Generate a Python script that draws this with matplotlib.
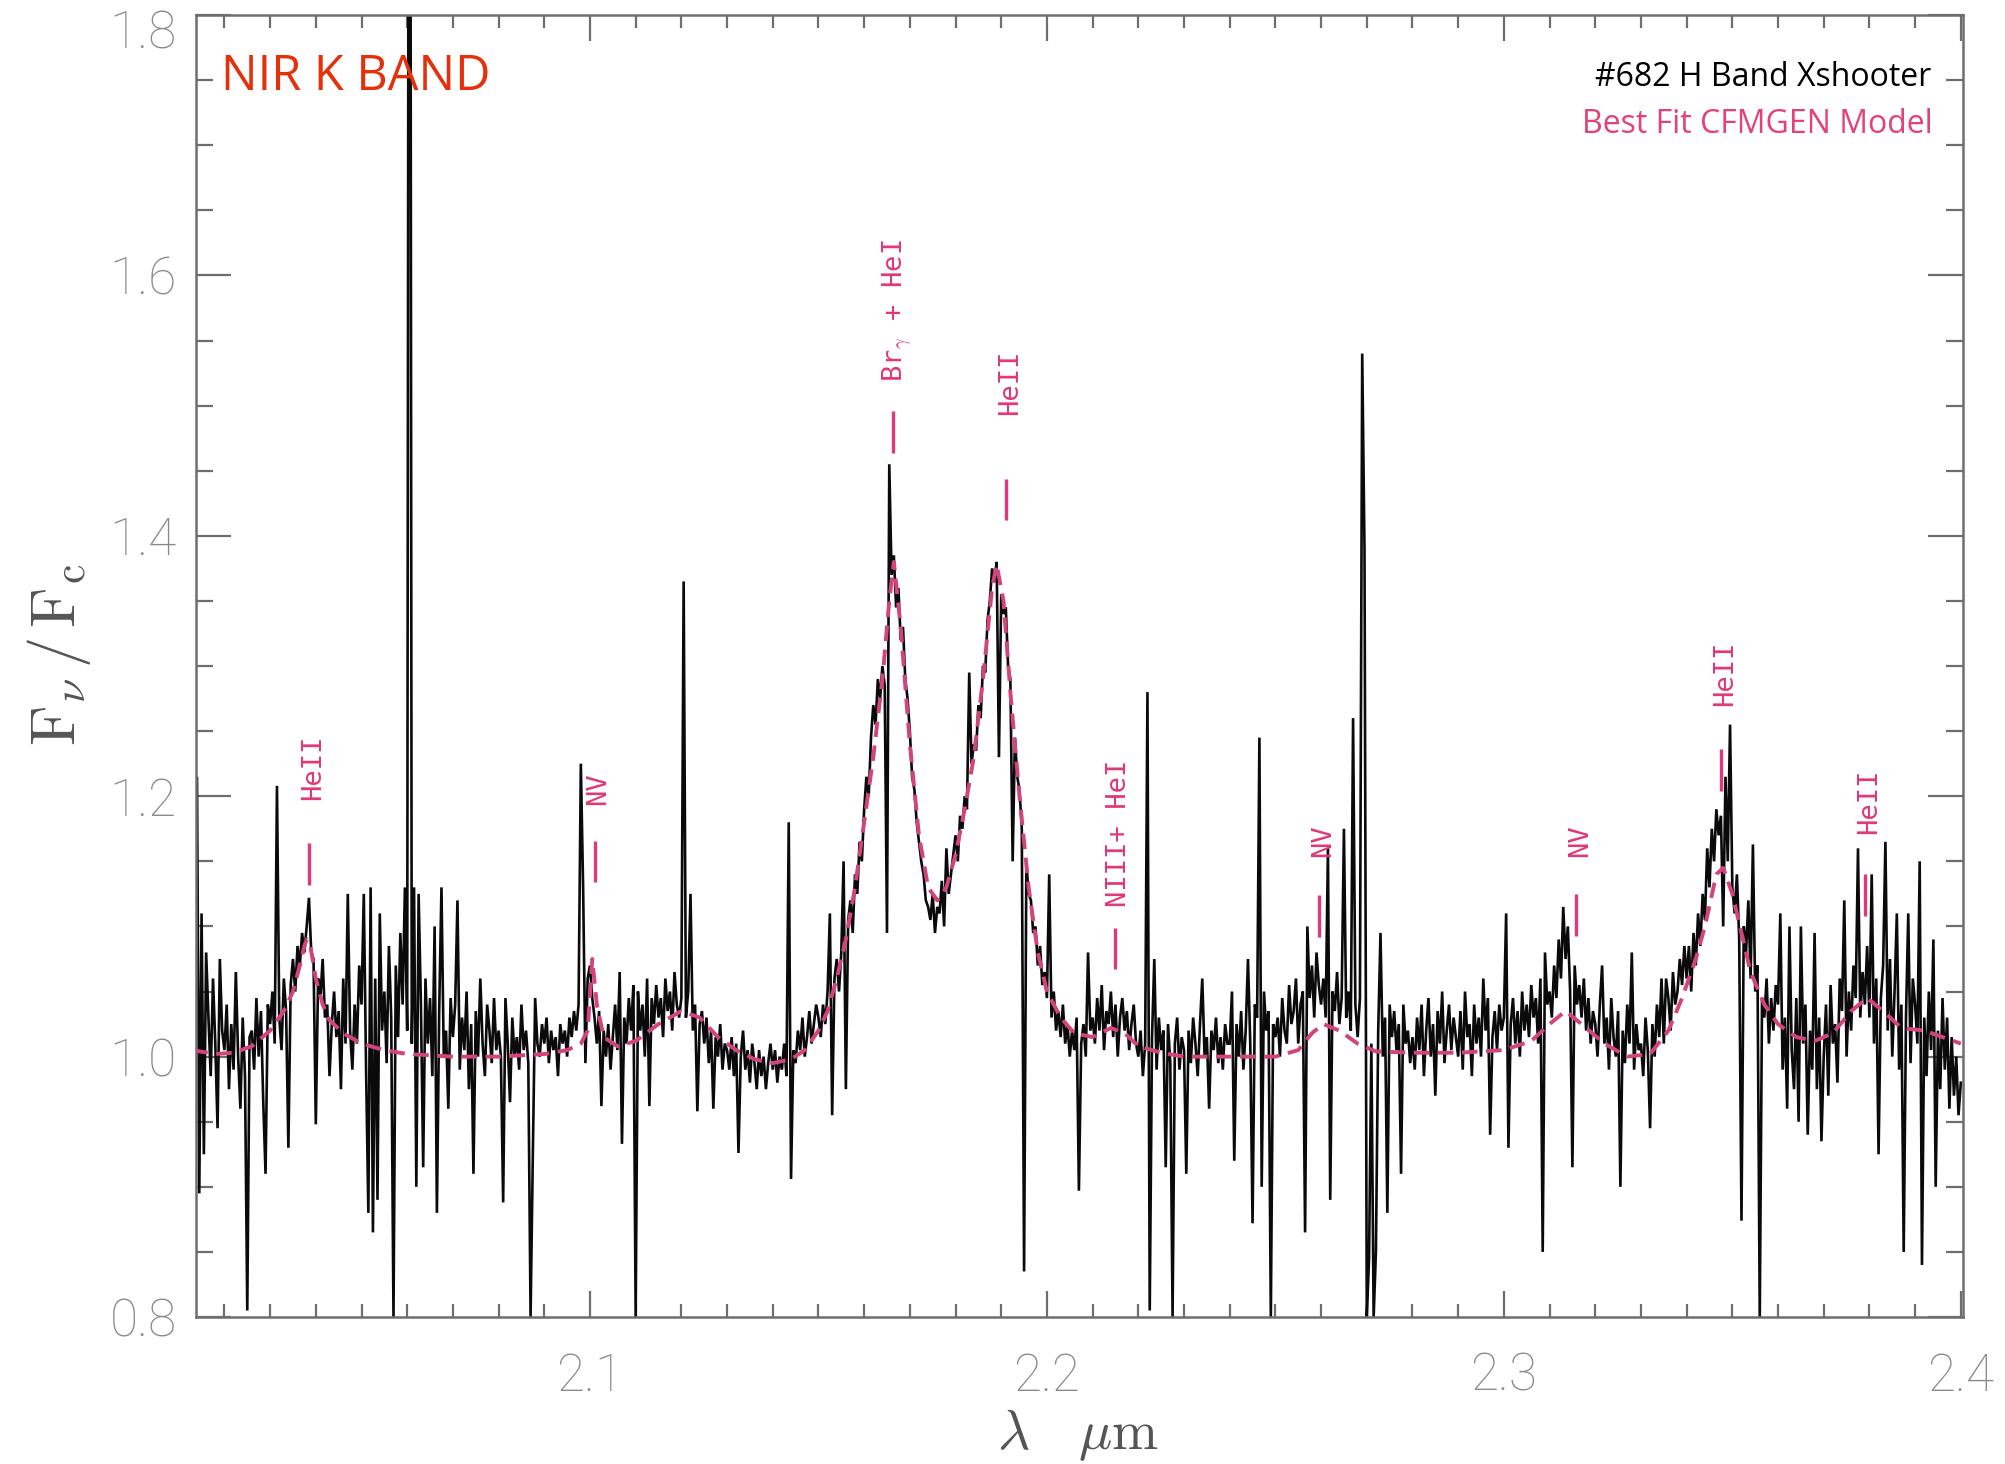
import matplotlib
matplotlib.use("Agg")
import matplotlib.pyplot as plt
import matplotlib.transforms as mtransforms
import numpy as np
from matplotlib.ticker import MultipleLocator, FixedLocator

# ---------------------------------------------------------------- data
# Observed K-band spectrum, sampled every 0.5 nm from 2.0130 um (flux x 1000)
wave_start = 2.0130
wave_step = 0.0005
flux_milli = [
    1040, 1120, 1215, 895, 1110, 925, 1080, 1030, 985, 1060, 1010, 945, 1075, 1020,             # 2.013
    1005, 1040, 975, 1025, 990, 1065, 1000, 960, 1030, 985, 805, 1015, 1020, 990, 1045, 1000, 1035, 965, 910, 1040,   # 2.02
    1025, 1050, 1010, 1208, 1030, 1005, 1060, 1035, 930, 1055, 1075, 1050, 1085, 1070, 1095, 1080, 1100, 1122, 1080, 1075,  # 2.03
    948, 1060, 1045, 1075, 1030, 1040, 985, 1025, 1050, 1015, 1035, 975, 1060, 1010, 1125, 1020, 990, 1040, 1010, 1070,     # 2.04
    1040, 1125, 990, 880, 1130, 865, 1060, 890, 1110, 1020, 1050, 995, 1085, 1030, 800, 1070, 1015, 1095, 1040, 1130,       # 2.05
    1020, 2600, 1010, 1130, 900, 1125, 1040, 915, 1060, 1010, 1045, 985, 1100, 880, 1035, 1130, 1000, 1020, 960, 1045,      # 2.06
    1015, 1040, 1120, 990, 1030, 1005, 1050, 975, 1025, 910, 1035, 1000, 1060, 1010, 985, 1040, 1020, 995, 1045, 1005,      # 2.07
    1020, 1000, 888, 1045, 1010, 965, 1030, 1000, 1015, 990, 1040, 1005, 1020, 995, 800, 926, 1045, 1010, 1000, 1025,       # 2.08
    1010, 1030, 995, 1020, 1005, 1015, 985, 1025, 1010, 1020, 1000, 1030, 1015, 1035, 1020, 1040, 1225, 1130, 995, 1060,    # 2.09
    1070, 1045, 1030, 1010, 1035, 962, 1020, 1000, 1025, 990, 1015, 1040, 1005, 1065, 933, 1030, 1010, 1045, 1020, 1055,    # 2.10
    800, 1050, 1020, 1040, 1000, 1060, 962, 1045, 1025, 1055, 1030, 1045, 1015, 1060, 1035, 1050, 1020, 1065, 1040, 1030,   # 2.11
    1045, 1365, 1030, 1050, 1125, 1020, 1040, 958, 1025, 1035, 1010, 1030, 995, 1020, 960, 1015, 1000, 1025, 990, 1010,     # 2.12
    1005, 990, 1015, 985, 1010, 926, 1000, 1020, 990, 1005, 980, 1010, 995, 975, 1005, 985, 1000, 975, 995, 1010,           # 2.13
    990, 1005, 980, 1000, 990, 1010, 985, 1180, 906, 1005, 995, 1020, 1005, 1030, 1000, 1015, 1035, 1010, 1025, 1040,       # 2.14
    1030, 1015, 1040, 1025, 1050, 1110, 955, 1060, 1075, 1050, 1080, 1150, 975, 1105, 1120, 1095, 1140, 1125, 1165, 1150,   # 2.15
    1190, 1215, 1200, 1245, 1270, 1255, 1290, 1275, 1300, 1285, 1095, 1455, 1370, 1385, 1345, 1360, 1320, 1330, 1290, 1275, # 2.16
    1250, 1215, 1205, 1180, 1165, 1150, 1140, 1120, 1115, 1105, 1125, 1095, 1115, 1110, 1135, 1100, 1160, 1125, 1140, 1155, # 2.17
    1170, 1150, 1185, 1175, 1200, 1190, 1295, 1225, 1240, 1235, 1270, 1260, 1300, 1295, 1335, 1350, 1375, 1365, 1380, 1230, # 2.18
    1355, 1340, 1345, 1300, 1290, 1150, 1245, 1215, 1205, 1175, 835, 1150, 1125, 1120, 1095, 1100, 1070, 1085, 1055, 1065,  # 2.19
    1045, 1140, 1030, 1050, 1020, 1035, 1015, 1040, 1010, 1025, 1000, 1020, 1005, 1030, 897, 1010, 1025, 1000, 1080, 1020,  # 2.20
    1030, 1010, 1045, 1020, 1055, 1005, 1035, 1025, 1050, 1015, 1040, 1000, 1030, 1045, 1020, 1035, 1005, 1025, 1040, 1010, # 2.21
    1000, 1020, 985, 1010, 1280, 805, 1015, 1075, 990, 1030, 1005, 1020, 915, 1025, 995, 800, 1010, 1030, 990, 1015,        # 2.22
    1005, 910, 1020, 995, 1030, 1010, 985, 1025, 1060, 1000, 1015, 960, 1020, 1005, 1030, 995, 1015, 990, 1025, 1010,       # 2.23
    1010, 1050, 920, 1025, 1000, 1035, 990, 1020, 1075, 1010, 872, 1040, 1030, 1245, 900, 1050, 1020, 1035, 800, 1025,      # 2.24
    1015, 1030, 1000, 1045, 1020, 1010, 1055, 1025, 1035, 1060, 1010, 1040, 1050, 865, 1100, 1045, 1070, 1030, 1080, 1055,  # 2.25
    1040, 1060, 1030, 1160, 890, 1050, 1035, 1065, 1025, 1045, 1175, 1030, 1050, 1020, 1260, 1040, 1015, 1045, 1540, 1390,  # 2.26
    800, 845, 1010, 800, 850, 1020, 1095, 1000, 1030, 880, 1040, 1015, 1035, 1005, 1025, 910, 1040, 1010, 1020, 995,        # 2.27
    1015, 990, 1030, 1005, 1040, 985, 1020, 1045, 1000, 1025, 970, 1035, 1010, 1050, 995, 1020, 1040, 1005, 1030, 1015,     # 2.28
    1000, 1035, 990, 1050, 1015, 1025, 985, 1040, 1010, 1030, 1000, 1060, 1020, 1045, 940, 1015, 1035, 1005, 1040, 1020,    # 2.29
    1030, 1110, 930, 1025, 1045, 1010, 1035, 1000, 1050, 1020, 1040, 1015, 1055, 1030, 1045, 1010, 1060, 850, 1080, 1040,   # 2.30
    1050, 1030, 1070, 1045, 1090, 1060, 1115, 1075, 1100, 1050, 915, 1070, 1040, 1055, 1030, 1060, 1020, 1045, 1010, 1035,  # 2.31
    1025, 1000, 1040, 1070, 1010, 1030, 990, 1045, 1015, 1000, 1035, 900, 1020, 995, 1040, 1010, 1080, 990, 1025, 1005,     # 2.32
    1010, 985, 1030, 1005, 945, 1025, 1000, 1040, 1015, 1060, 1010, 1060, 1045, 1020, 1065, 1040, 1050, 1075, 1055, 1085,   # 2.33
    1060, 1085, 1050, 1095, 1070, 1110, 1085, 1125, 1105, 1160, 1130, 1175, 1150, 1190, 1170, 1185, 1100, 1215, 1150, 1255, # 2.34
    1130, 1110, 1140, 1090, 874, 1100, 1080, 1120, 1060, 1163, 1050, 1070, 800, 1045, 1030, 1060, 1010, 1045, 1020, 1055,   # 2.35
    1040, 1110, 990, 1030, 960, 1100, 1005, 975, 1045, 950, 1100, 1010, 1040, 940, 1020, 990, 1095, 975, 1030, 935,         # 2.36
    1000, 1040, 970, 1055, 1010, 1025, 980, 1060, 1035, 1120, 1000, 1050, 1020, 1070, 1045, 1160, 1030, 1065, 1040, 1085,   # 2.37
    1030, 1140, 1010, 1060, 925, 1045, 1070, 1165, 1020, 1075, 1000, 1050, 1110, 990, 1040, 850, 1030, 1110, 995, 1060,     # 2.38
    1040, 1010, 1150, 840, 1030, 985, 1050, 1005, 1090, 900, 1020, 975, 1045, 990, 1030, 960, 1015, 970, 1000, 955,         # 2.39
    980,                                                                                                                    # 2.40
]

# Best-fit CMFGEN model (dashed curve)
model_wave = [2.013, 2.018, 2.022, 2.026, 2.030, 2.033, 2.035, 2.0365, 2.0375, 2.038, 2.0388,
              2.040, 2.0415, 2.043, 2.046, 2.050, 2.055, 2.060, 2.070, 2.080, 2.090, 2.095,
              2.098, 2.0995, 2.1005, 2.1015, 2.103, 2.106, 2.110, 2.115, 2.120, 2.124, 2.128,
              2.132, 2.136, 2.140, 2.144, 2.147, 2.150, 2.152, 2.154, 2.156, 2.158, 2.160,
              2.162, 2.164, 2.1655, 2.1665, 2.168, 2.170, 2.172, 2.174, 2.176, 2.178, 2.180,
              2.182, 2.184, 2.186, 2.188, 2.189, 2.1905, 2.192, 2.194, 2.196, 2.198, 2.200,
              2.203, 2.206, 2.210, 2.214, 2.217, 2.220, 2.225, 2.230, 2.240, 2.250, 2.255,
              2.258, 2.2605, 2.264, 2.268, 2.272, 2.280, 2.290, 2.300, 2.306, 2.310, 2.3135,
              2.317, 2.322, 2.327, 2.332, 2.336, 2.339, 2.342, 2.344, 2.3465, 2.348, 2.350,
              2.352, 2.354, 2.357, 2.360, 2.364, 2.368, 2.372, 2.376, 2.3795, 2.383, 2.387,
              2.392, 2.396, 2.400]
model_flux = [1.005, 1.002, 1.003, 1.008, 1.020, 1.035, 1.050, 1.070, 1.085, 1.090, 1.085,
              1.060, 1.040, 1.028, 1.018, 1.010, 1.005, 1.002, 1.000, 1.000, 1.002, 1.005,
              1.010, 1.020, 1.075, 1.040, 1.015, 1.008, 1.012, 1.025, 1.035, 1.030, 1.015,
              1.005, 0.998, 0.995, 0.998, 1.005, 1.020, 1.035, 1.060, 1.090, 1.130, 1.180,
              1.230, 1.290, 1.350, 1.380, 1.330, 1.240, 1.170, 1.130, 1.120, 1.130, 1.155,
              1.190, 1.230, 1.290, 1.360, 1.378, 1.350, 1.280, 1.200, 1.130, 1.080, 1.050,
              1.030, 1.018, 1.015, 1.022, 1.018, 1.008, 1.003, 1.000, 1.000, 1.000, 1.005,
              1.018, 1.025, 1.020, 1.010, 1.004, 1.003, 1.003, 1.005, 1.012, 1.025, 1.035,
              1.025, 1.010, 1.000, 1.002, 1.020, 1.045, 1.075, 1.100, 1.140, 1.145, 1.125,
              1.095, 1.065, 1.040, 1.025, 1.015, 1.012, 1.018, 1.035, 1.045, 1.035, 1.022,
              1.020, 1.015, 1.010]

# Line identifications: wavelength, marker base, label base (flux units)
line_labels = ["HeII", "NV", r"Br$_\gamma$ + HeI", "HeII", "NIII+ HeI",
               "NV", "NV", "HeII", "HeII"]
line_waves = [2.0385, 2.1010, 2.1664, 2.1911, 2.2148, 2.2595, 2.3158, 2.3475, 2.3790]
mark_base = [1.132, 1.134, 1.464, 1.412, 1.067, 1.092, 1.093, 1.204, 1.108]
label_base = [1.197, 1.193, 1.518, 1.493, 1.115, 1.153, 1.153, 1.269, 1.171]
mark_len = 0.032

x_major = [2.1, 2.2, 2.3, 2.4]
x_labels = ["2.1", "2.2", "2.3", "2.4"]
y_major = [0.8, 1.0, 1.2, 1.4, 1.6, 1.8]
y_labels = ["0.8", "1.0", "1.2", "1.4", "1.6", "1.8"]

# ---------------------------------------------------------------- style
plt.rcParams["mathtext.fontset"] = "cm"
frame_col = "#6e6e6e"
tick_lab_col = "#8a8a8a"
pink = "#e0387a"
model_col = "#d4447c"

fig = plt.figure(figsize=(20.05, 14.64), dpi=100)
ax = fig.add_axes([0.0978, 0.1004, 0.8813, 0.8893])

flux = np.array(flux_milli) / 1000.0
wave = wave_start + wave_step * np.arange(len(flux))

ax.plot(wave, flux, color="#0a0a0a", lw=1.9, zorder=2, solid_joinstyle="miter")
ax.plot(model_wave, model_flux, color=model_col, lw=2.8, dashes=(4, 2.2), zorder=3)

# line markers and labels
ax.vlines(line_waves, mark_base, np.array(mark_base) + mark_len, color=pink, lw=2.4, zorder=4)
nudge = mtransforms.ScaledTranslation(4 / 100, 0, fig.dpi_scale_trans)
for lab, w, yb in zip(line_labels, line_waves, label_base):
    ax.text(w, yb, lab, rotation=90, ha="center", va="bottom", color=pink,
            fontsize=19.5, family="DejaVu Sans Mono", zorder=5,
            transform=ax.transData + nudge)

ax.set_xlim(2.0138, 2.4005)
ax.set_ylim(0.8, 1.8)

ax.xaxis.set_major_locator(FixedLocator(x_major))
ax.set_xticklabels(x_labels)
ax.xaxis.set_minor_locator(MultipleLocator(0.01))
ax.yaxis.set_major_locator(FixedLocator(y_major))
ax.set_yticklabels(y_labels)
ax.yaxis.set_minor_locator(MultipleLocator(0.05))

ax.tick_params(which="both", direction="in", top=True, right=True,
               color=frame_col, width=1.6, labelcolor=tick_lab_col, labelsize=37)
ax.tick_params(axis="x", which="major", length=18.5, pad=25)
ax.tick_params(axis="x", which="minor", length=9.3)
ax.tick_params(axis="y", which="major", length=25, pad=14)
ax.tick_params(axis="y", which="minor", length=12.5)
for lab in ax.get_xticklabels() + ax.get_yticklabels():
    lab.set_fontfamily("Roboto")
    lab.set_fontweight("light")

# the top label sits just below the frame edge
top_lab = ax.get_yticklabels()[-1]
top_lab.set_transform(top_lab.get_transform() +
                      mtransforms.ScaledTranslation(0, -14 / 100, fig.dpi_scale_trans))

for sp in ax.spines.values():
    sp.set_color(frame_col)
    sp.set_linewidth(1.8)

# axis titles
fig.text(59 / 2005, 1 - 655 / 1464, r"$\mathrm{F}_{\nu}\,/\,\mathrm{F}_{\mathrm{c}}$",
         rotation=90, ha="center", va="center", fontsize=45, color="#555555")
fig.text(1078 / 2005, 1 - 1449 / 1464, r"$\lambda\ \ \ \mu\mathrm{m}$",
         ha="center", va="baseline", fontsize=40, color="#555555")

# panel annotations
ax.text(0.0141, 0.952, "NIR K BAND", transform=ax.transAxes, color="#e5300c",
        fontsize=35, family="Open Sans", ha="left", va="center")
ax.text(0.982, 0.952, "#682 H Band Xshooter", transform=ax.transAxes, color="black",
        fontsize=23, family="Open Sans", ha="right", va="center")
ax.text(0.983, 0.916, "Best Fit CFMGEN Model", transform=ax.transAxes, color="#e5407a",
        fontsize=23, family="Open Sans", ha="right", va="center")

fig.savefig("out.png", dpi=100, facecolor="white")
